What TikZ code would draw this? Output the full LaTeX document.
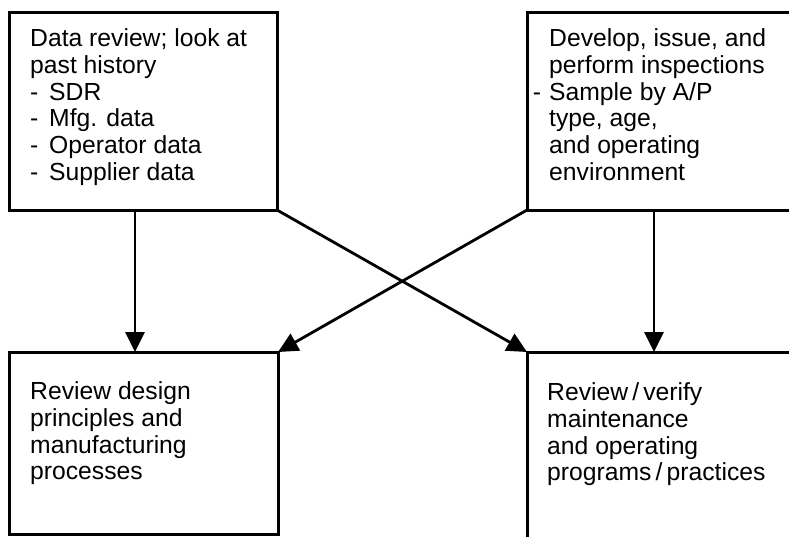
\documentclass[tikz,border=0pt]{standalone}
\usepackage{fontspec}
\setmainfont{Liberation Sans}
\usetikzlibrary{arrows.meta}
\begin{document}
\begin{tikzpicture}[x=1pt,y=-1pt,
  box/.style={draw, line width=3pt, rectangle, inner sep=0pt, outer sep=0pt, anchor=north west},
  txt/.style={anchor=north west, inner sep=0pt, align=left, font=\fontsize{24.7}{26.7}\selectfont},
  arr/.style={line width=2.8pt, -{Triangle[length=20pt,width=19pt]}}]
\useasboundingbox (0,0) rectangle (789,536);
\clip (0,0) rectangle (789,536);
\node[box, minimum width=268pt, minimum height=198pt] (tl) at (9,12) {};
\node[box, minimum width=275pt, minimum height=198pt] (tr) at (527,12) {};
\node[box, minimum width=269pt, minimum height=182pt] (bl) at (9,352) {};
\node[box, minimum width=275pt, minimum height=195pt] (br) at (527,352) {};
\node[txt] (tlt) at (30,28.5) {Data review; look at\\past history\\\makebox[19pt][l]{-}SDR\\\makebox[19pt][l]{-}Mfg. data\\\makebox[19pt][l]{-}Operator data\\\makebox[19pt][l]{-}Supplier data};
\node[txt] (trt) at (549,28.5) {Develop, issue, and\\perform inspections\\\llap{-\hspace{8pt}}Sample by A/P\\type, age,\\and operating\\environment};
\node[txt] (blt) at (30,381.5) {Review design\\principles and\\manufacturing\\processes};
\node[txt] (brt) at (547,382.5) {Review\,/\,verify\\maintenance\\and operating\\programs\,/\,practices};
\path (tl.south west) ++(126,0) coordinate (v1);
\path (tr.south west) ++(127,0) coordinate (v2);
\draw[arr] (v1) -- (v1 |- bl.north);
\draw[arr] (v2) -- (v2 |- br.north);
\draw[arr] (tl.south east) -- (br.north west);
\draw[arr] (tr.south west) -- (bl.north east);
\end{tikzpicture}
\end{document}
